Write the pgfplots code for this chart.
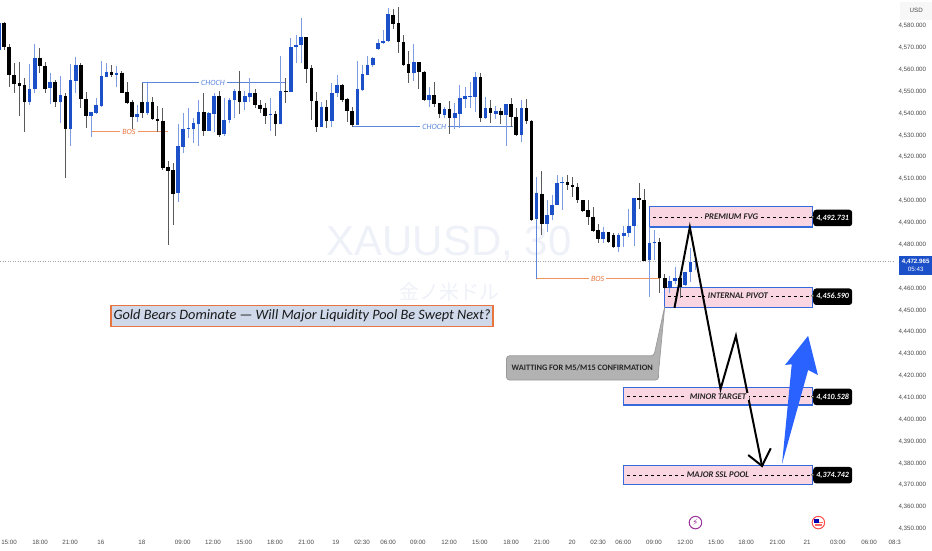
\documentclass[border=0pt]{standalone}
\usepackage{fontspec}
\setmainfont{Liberation Sans}
\newfontfamily\annot{Carlito}
\newfontfamily\cjk{Noto Sans CJK JP}
\newfontfamily\sym{DejaVu Sans}
\usepackage{pgfplots}
\usepackage{pgfplotstable}
\pgfplotsset{compat=1.18}
\definecolor{bodyblue}{HTML}{1C50C8}
\definecolor{wickblue}{HTML}{7D9CE2}
\definecolor{wickblack}{HTML}{5A5A5A}
\definecolor{zonepink}{HTML}{FAD5E2}
\definecolor{zoneblue}{HTML}{3569DC}
\definecolor{arrowblue}{HTML}{2962FF}
\definecolor{titlefill}{HTML}{CFD9EA}
\definecolor{orangeline}{HTML}{F0945F}
\definecolor{orangetxt}{HTML}{E9753E}
\definecolor{chochblue}{HTML}{5C85DC}
\definecolor{wm}{HTML}{EEF1F8}
\definecolor{tickc}{HTML}{4A4A4A}
\pgfplotstableread{
x high low top bot
-1 4582.8 4568.3 4581.2 4569.0
5 4562.6 4543.7 4551.2 4545.4
6 4571.8 4549.2 4565.5 4551.2
9 4558.4 4544.3 4554.4 4551.5
11 4557.2 4535.8 4548.3 4545.3
13 4562.5 4525.2 4555.2 4532.8
14 4565.7 4549.2 4562.2 4554.9
17 4540.8 4529.1 4540.5 4539.0
18 4547.2 4539.8 4543.7 4540.1
19 4563.9 4543.1 4557.0 4543.6
20 4562.9 4556.5 4559.0 4556.7
22 4561.9 4552.0 4558.7 4557.5
26 4543.7 4536.3 4539.9 4538.6
28 4553.8 4539.3 4545.3 4540.4
34 4535.1 4499.4 4525.2 4503.5
35 4540.1 4522.1 4532.9 4524.8
36 4542.4 4529.0 4533.4 4532.9
37 4537.8 4526.4 4535.5 4532.9
38 4546.2 4525.3 4540.5 4535.2
40 4540.8 4532.0 4540.2 4532.2
41 4549.2 4531.7 4548.0 4539.9
43 4547.2 4529.7 4537.0 4530.5
44 4546.9 4535.5 4546.3 4536.9
45 4551.1 4537.8 4550.1 4546.0
47 4550.3 4541.6 4547.9 4545.4
48 4556.1 4545.4 4549.4 4547.7
52 4546.9 4532.0 4539.9 4539.2
54 4566.4 4535.1 4550.3 4535.2
56 4574.4 4549.8 4570.6 4550.0
57 4575.9 4562.9 4571.3 4570.4
58 4583.5 4562.9 4575.1 4571.3
62 4545.4 4533.7 4543.1 4533.8
64 4553.8 4533.7 4549.4 4536.7
65 4557.5 4547.4 4553.2 4549.2
69 4564.2 4534.6 4551.1 4534.8
70 4562.2 4550.4 4557.9 4550.8
71 4566.3 4557.5 4562.3 4557.6
72 4566.0 4561.4 4565.5 4562.0
73 4574.1 4569.0 4572.1 4569.3
74 4578.2 4571.8 4573.3 4572.1
75 4588.1 4572.8 4585.3 4573.0
80 4571.6 4555.0 4563.4 4558.4
83 4552.3 4543.1 4548.5 4546.2
86 4542.8 4537.8 4542.1 4539.5
88 4545.0 4532.8 4540.1 4537.8
89 4553.0 4533.2 4546.9 4539.9
90 4552.3 4542.4 4547.9 4546.8
91 4554.6 4542.4 4548.0 4547.7
92 4559.1 4540.8 4556.5 4547.7
94 4547.7 4537.3 4542.5 4537.8
96 4543.4 4537.3 4541.3 4539.8
98 4544.3 4525.2 4544.3 4539.3
101 4546.2 4527.1 4542.4 4530.2
104 4510.8 4491.3 4503.8 4491.9
106 4500.5 4486.0 4493.6 4489.3
107 4502.7 4491.3 4498.3 4493.4
108 4511.9 4498.0 4508.4 4498.2
109 4511.1 4495.9 4508.5 4508.1
117 4487.9 4480.6 4485.7 4482.6
120 4485.2 4476.8 4484.2 4478.8
121 4488.6 4479.1 4485.5 4484.0
122 4496.2 4483.7 4488.7 4485.4
123 4501.4 4479.4 4501.2 4488.7
126 4487.9 4455.9 4480.9 4473.0
127 4486.7 4473.0 4481.1 4480.6
130 4465.7 4457.8 4463.4 4460.2
131 4470.0 4462.1 4464.6 4463.4
133 4467.7 4461.1 4467.7 4461.4
134 4478.7 4463.1 4472.3 4467.5
135 4474.6 4468.5 4472.7 4472.3
}\bluebars
\pgfplotstableread{
x high low top bot
0 4582.0 4569.0 4581.5 4570.3
1 4571.6 4552.3 4570.3 4557.8
2 4562.9 4549.5 4557.6 4553.6
3 4563.4 4539.0 4553.8 4552.6
4 4556.1 4531.6 4552.9 4545.1
7 4569.8 4558.7 4565.5 4561.6
8 4563.7 4549.5 4561.9 4551.4
10 4555.3 4543.1 4554.4 4545.1
12 4549.2 4510.7 4548.0 4532.8
15 4562.9 4542.7 4562.2 4546.6
16 4549.7 4533.2 4546.6 4539.0
21 4562.2 4556.8 4559.0 4557.5
23 4559.6 4549.2 4558.7 4549.5
24 4554.6 4544.3 4549.7 4544.8
25 4546.2 4532.5 4545.4 4538.6
27 4554.1 4537.8 4545.3 4540.1
29 4547.4 4537.0 4545.3 4537.3
30 4543.6 4531.7 4537.6 4536.6
31 4542.4 4514.2 4536.7 4515.2
32 4518.4 4480.0 4515.4 4513.9
33 4517.2 4489.2 4514.2 4503.2
39 4549.2 4529.9 4540.5 4532.0
42 4550.4 4529.4 4548.2 4530.3
46 4559.6 4539.6 4550.1 4545.4
49 4551.1 4542.4 4549.4 4544.0
50 4546.2 4540.4 4544.0 4542.2
51 4544.7 4535.2 4542.5 4539.0
53 4541.3 4529.7 4539.8 4535.2
55 4556.1 4544.7 4550.4 4550.1
59 4575.1 4554.1 4574.8 4560.5
60 4562.2 4537.0 4560.7 4545.7
61 4550.0 4531.6 4545.9 4534.0
63 4546.2 4533.4 4543.1 4536.4
66 4553.5 4545.3 4553.2 4546.2
67 4547.2 4536.3 4546.5 4541.3
68 4543.1 4534.0 4541.2 4534.8
76 4587.6 4578.5 4585.2 4580.9
77 4588.5 4567.8 4581.4 4572.7
78 4575.9 4561.9 4572.7 4562.2
79 4568.7 4553.8 4562.5 4558.4
81 4563.7 4551.1 4563.4 4559.1
82 4559.4 4545.9 4559.1 4546.2
84 4554.2 4543.1 4548.3 4544.3
85 4545.0 4537.8 4544.7 4539.6
87 4545.7 4530.6 4542.1 4537.8
93 4558.7 4536.3 4556.7 4537.8
95 4546.2 4535.5 4542.5 4540.1
97 4542.4 4535.2 4541.3 4539.5
99 4547.2 4534.0 4544.3 4538.6
100 4542.4 4529.7 4538.6 4530.0
102 4546.5 4535.1 4542.4 4536.7
103 4537.0 4491.0 4536.7 4491.3
105 4513.6 4484.2 4503.4 4489.3
110 4511.9 4505.0 4508.5 4507.2
111 4511.1 4502.0 4507.3 4506.4
112 4508.1 4498.9 4506.6 4500.2
113 4500.5 4495.1 4500.2 4495.4
114 4500.2 4489.0 4495.9 4492.8
115 4497.4 4486.0 4492.8 4486.3
116 4489.5 4480.9 4486.6 4482.8
118 4486.0 4480.9 4485.7 4481.4
119 4485.2 4478.4 4484.2 4478.8
124 4508.1 4496.2 4501.2 4500.2
125 4505.5 4472.6 4500.5 4472.7
128 4482.9 4458.1 4481.3 4464.6
129 4466.6 4459.9 4464.6 4460.2
132 4465.1 4455.5 4464.9 4460.5
}\blackbars
\tikzset{
 zone/.style={draw=zoneblue,line width=1.4pt,fill=zonepink},
 level/.style={black,line width=0.5pt,dash pattern=on 3pt off 3pt},
 ztext/.style={font=\annot\bfseries\itshape\fontsize{8.7}{10}\selectfont,text=black!85,fill=zonepink,inner xsep=3pt,inner ysep=0.5pt},
 ptag/.style={fill=black,rounded corners=3pt,text=white,font=\annot\bfseries\itshape\fontsize{8}{9}\selectfont,minimum width=39pt,minimum height=16.5pt,inner sep=0pt},
 stext/.style={fill=white,inner xsep=2pt,inner ysep=0pt,font=\annot\itshape\fontsize{8}{9}\selectfont},
 blinetxt/.style={stext,text=chochblue},
 olinetxt/.style={stext,text=orangetxt},
 enddot/.style={circle,draw=black,fill=white,line width=0.4pt,minimum size=2.6pt,inner sep=0pt},
}
\begin{document}
\begin{tikzpicture}
\useasboundingbox (0,0) rectangle (932pt,550pt);
\begin{axis}[
 at={(0pt,18pt)},anchor=south west,
 width=895pt,height=532pt,scale only axis,
 xmin=-0.781,xmax=173.96,ymin=4348.6,ymax=4591.89,
 clip=false,
 axis line style={draw=none},
 tick style={draw=none},
 scaled y ticks=false,
 ytick={4350,4360,4370,4380,4390,4400,4410,4420,4430,4440,4450,4460,4480,4490,4500,4510,4520,4530,4540,4550,4560,4570,4580},
 yticklabel pos=right,
 yticklabel style={font=\fontsize{6.2}{7}\selectfont,text=tickc,/pgf/number format/.cd,fixed,fixed zerofill,precision=3,1000 sep={,},assume math mode=true},
 xtick={0.98,7.03,12.9,18.9,26.9,34.9,40.8,46.9,52.9,59,64.8,69.9,75,80.8,86.9,92.9,99,105,110.9,116,120.9,126.9,133,139,144.9,151,156.8,162.8,168.9,173.9},
 xticklabels={15:00,18:00,21:00,16,18,09:00,12:00,15:00,18:00,21:00,19,02:30,06:00,09:00,12:00,15:00,18:00,21:00,20,02:30,06:00,09:00,12:00,15:00,18:00,21:00,21,03:00,06:00,08:3},
 xticklabel style={font=\fontsize{6.2}{7}\selectfont,text=tickc,yshift=-4.5pt},
]
% watermark
\node[font=\fontsize{42}{44}\selectfont,text=wm] at (axis cs:86.9,4480.3) {XAUUSD, 30};
\node[font=\cjk\fontsize{20}{22}\selectfont,text=wm] at (axis cs:87,4458.4) {金ノ米ドル};
% structure lines
\addplot[draw=gray!70,dotted,line width=0.5pt,forget plot] coordinates {(-0.78,4472.6) (173.96,4472.6)};
\addplot[draw=orangeline,line width=0.8pt,forget plot] coordinates {(17,4531.7) (32,4531.7)};
\addplot[draw=chochblue,line width=0.8pt,forget plot] coordinates {(27,4554.1) (55,4554.1)};
\addplot[draw=chochblue,line width=0.8pt,forget plot] coordinates {(68.1,4534) (99.4,4534)};
\addplot[draw=chochblue,line width=0.8pt,forget plot] coordinates {(104,4503) (104,4464.4)};
\addplot[draw=orangeline,line width=0.8pt,forget plot] coordinates {(104,4464.4) (128,4464.4)};
% zones
\addplot[zone,forget plot] coordinates {(126,4497.4) (157.9,4497.4) (157.9,4488) (126,4488)} -- cycle;
\addplot[zone,forget plot] coordinates {(128.9,4460.3) (157.9,4460.3) (157.9,4451.4) (128.9,4451.4)} -- cycle;
\addplot[zone,forget plot] coordinates {(120.9,4414.8) (157.9,4414.8) (157.9,4406.6) (120.9,4406.6)} -- cycle;
\addplot[zone,forget plot] coordinates {(120.9,4379.1) (157.9,4379.1) (157.9,4370.3) (120.9,4370.3)} -- cycle;
\addplot[level,forget plot] coordinates {(126.8,4492.73) (157.9,4492.73)};
\addplot[level,forget plot] coordinates {(129.7,4456.59) (157.9,4456.59)};
\addplot[level,forget plot] coordinates {(121.7,4410.53) (157.9,4410.53)};
\addplot[level,forget plot] coordinates {(121.7,4374.74) (157.9,4374.74)};
% wicks
\addplot[draw=none,mark=none,forget plot,error bars/.cd,y dir=both,y explicit,error mark=none,error bar style={draw=wickblack,line width=0.8pt}]
 table[x=x,y=top,y error plus expr=\thisrow{high}-\thisrow{top},y error minus expr=\thisrow{top}-\thisrow{low}] {\blackbars};
\addplot[draw=none,mark=none,forget plot,error bars/.cd,y dir=both,y explicit,error mark=none,error bar style={draw=wickblue,line width=0.8pt}]
 table[x=x,y=top,y error plus expr=\thisrow{high}-\thisrow{top},y error minus expr=\thisrow{top}-\thisrow{low}] {\bluebars};
% bodies
\addplot[draw=none,mark=none,forget plot,error bars/.cd,y dir=minus,y explicit,error mark=none,error bar style={draw=black,line width=3.6pt,line cap=butt}]
 table[x=x,y=top,y error minus expr=\thisrow{top}-\thisrow{bot}] {\blackbars};
\addplot[draw=none,mark=none,forget plot,error bars/.cd,y dir=minus,y explicit,error mark=none,error bar style={draw=bodyblue,line width=3.6pt,line cap=butt}]
 table[x=x,y=top,y error minus expr=\thisrow{top}-\thisrow{bot}] {\bluebars};
% callout
\addplot[fill=gray!60,draw=gray!80,line width=0.7pt,rounded corners=3pt,forget plot] coordinates {(98.1,4429.2) (126.9,4429.2) (129,4451.7) (127.8,4421.8) (127.8,4418.1) (98.1,4418.1)} -- cycle;
% trade path
\addplot[black,line width=2pt,line join=miter,forget plot] coordinates {(130.9,4451.1) (133.9,4488) (139.9,4414) (142.9,4438.3) (148,4378.8)};
\addplot[black,line width=2pt,forget plot] coordinates {(145.3,4383.8) (148,4378.8) (149.7,4386.9)};
\addplot[fill=arrowblue,draw=none,forget plot] coordinates {(151.9,4379.7) (153.8,4425.3) (152.5,4425) (157,4438.3) (158.9,4420.4) (157,4422.7)} -- cycle;
% line labels
\node[olinetxt] at (axis cs:24.4,4531.7) {BOS};
\node[blinetxt] at (axis cs:40.8,4554.1) {CHOCH};
\node[blinetxt] at (axis cs:84,4534) {CHOCH};
\node[olinetxt] at (axis cs:115.9,4464.3) {BOS};
% zone labels
\node[ztext] at (axis cs:142,4492.73) {PREMIUM FVG};
\node[ztext] at (axis cs:143.3,4456.59) {INTERNAL PIVOT};
\node[ztext] at (axis cs:139.4,4410.53) {MINOR TARGET};
\node[ztext] at (axis cs:139.4,4374.74) {MAJOR SSL POOL};
% tags
\node[ptag] at (axis cs:161.8,4492.2) {4,492.731};
\node[ptag] at (axis cs:161.8,4456.2) {4,456.590};
\node[ptag] at (axis cs:161.8,4410.4) {4,410.528};
\node[ptag] at (axis cs:161.8,4374.6) {4,374.742};
\node[enddot] at (axis cs:157.9,4492.73) {};
\node[enddot] at (axis cs:157.9,4456.59) {};
\node[enddot] at (axis cs:157.9,4410.53) {};
\node[enddot] at (axis cs:157.9,4374.74) {};
\node[font=\annot\bfseries\fontsize{8.3}{9}\selectfont,text=black!85] at (axis cs:112.9,4423.6) {WAITTING FOR M5/M15 CONFIRMATION};
\node[fill=titlefill,draw=orangetxt,line width=1.2pt,minimum width=382pt,minimum height=21pt,inner sep=0pt,font=\annot\itshape\fontsize{14.3}{15}\selectfont,text=black!90] at (axis cs:58.2,4447.4) {Gold Bears Dominate — Will Major Liquidity Pool Be Swept Next?};
% right scale extras
\node[fill=gray!6,minimum width=32pt,minimum height=18pt,inner sep=0pt,font=\fontsize{6.2}{7}\selectfont,text=tickc] at (axis cs:178.1,4587) {USD};
\node[fill=bodyblue,text=white,minimum width=34pt,minimum height=19pt,inner sep=0pt,align=center,font=\fontsize{6.2}{7.6}\selectfont] at (axis cs:178,4470.5) {\textbf{4,472.965}\\05:43};
% event icons
\node[draw=violet!80,line width=1pt,circle,minimum size=12.5pt,inner sep=0pt,font=\sym\fontsize{8.5}{9}\selectfont,text=violet!80] at (axis cs:135,4352.9) {⚡};
\node[draw=red!70,fill=white,line width=1pt,circle,minimum size=12.5pt,inner sep=0pt] at (axis cs:159,4352.9) {};
\fill[red!60] ([shift={(-3.8pt,-3pt)}]axis cs:159,4352.9) rectangle ([shift={(3.8pt,-1.5pt)}]axis cs:159,4352.9);
\fill[red!60] ([shift={(-4.5pt,-0.5pt)}]axis cs:159,4352.9) rectangle ([shift={(4.5pt,1pt)}]axis cs:159,4352.9);
\fill[blue!70!black] ([shift={(-4pt,0pt)}]axis cs:159,4352.9) rectangle ([shift={(0.6pt,4pt)}]axis cs:159,4352.9);
\end{axis}
\end{tikzpicture}
\end{document}
